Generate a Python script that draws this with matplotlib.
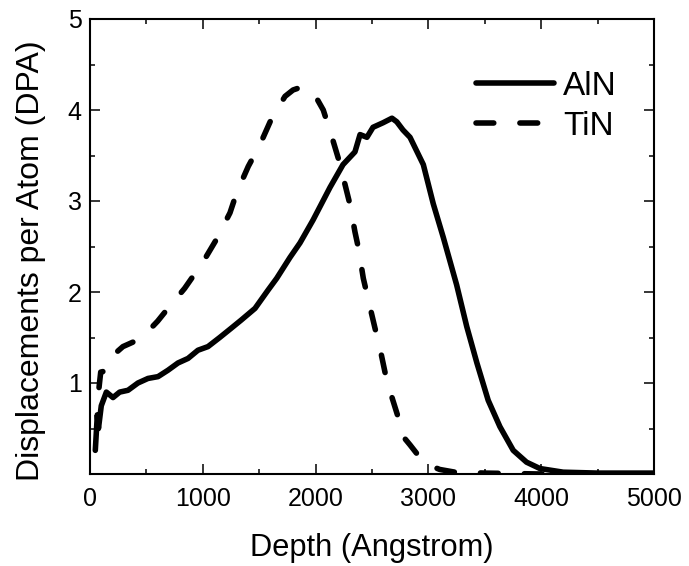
import matplotlib
matplotlib.use("Agg")
import matplotlib.pyplot as plt
from matplotlib.ticker import MultipleLocator

plt.rcParams['font.family'] = ['Liberation Sans', 'DejaVu Sans']

# AlN (solid)
aln_depth = [47, 65, 75, 100, 145, 204, 263, 337, 425, 514, 603, 691, 780, 869, 957,
             1046, 1150, 1250, 1339, 1463, 1578, 1655, 1773, 1862, 1977, 2128, 2243,
             2349, 2394, 2455, 2509, 2598, 2677, 2720, 2775, 2837, 2955, 3043, 3132,
             3250, 3340, 3430, 3530, 3634, 3752, 3870, 3989, 4195, 4500, 5000]
aln_dpa = [0.26, 0.65, 0.50, 0.75, 0.90, 0.84, 0.90, 0.92, 1.00, 1.05, 1.07, 1.14, 1.22,
           1.27, 1.36, 1.40, 1.50, 1.60, 1.69, 1.82, 2.02, 2.15, 2.38, 2.54, 2.79, 3.15,
           3.40, 3.54, 3.73, 3.70, 3.81, 3.86, 3.91, 3.87, 3.78, 3.70, 3.40, 2.97, 2.60,
           2.08, 1.62, 1.22, 0.81, 0.52, 0.26, 0.13, 0.06, 0.02, 0.01, 0.01]

# TiN (dashed)
tin_depth = [80, 95, 130, 200, 292, 400, 485, 600, 691, 839, 1002, 1117, 1241, 1300,
             1403, 1507, 1611, 1729, 1800, 1870, 1935, 1995, 2068, 2143, 2201, 2261,
             2305, 2349, 2380, 2423, 2468, 2527, 2571, 2615, 2675, 2748, 2777, 2837,
             2900, 3000, 3100, 3236, 3500, 4000, 5000]
tin_dpa = [0.95, 1.12, 1.13, 1.30, 1.40, 1.46, 1.53, 1.68, 1.82, 2.04, 2.33, 2.57, 2.87,
           3.09, 3.38, 3.62, 3.91, 4.15, 4.22, 4.25, 4.22, 4.16, 4.00, 3.71, 3.47, 3.18,
           2.96, 2.66, 2.48, 2.15, 1.91, 1.60, 1.38, 1.12, 0.85, 0.56, 0.41, 0.32, 0.22,
           0.10, 0.05, 0.02, 0.01, 0.0, 0.0]

xticks = [0, 1000, 2000, 3000, 4000, 5000]
yticks = [1, 2, 3, 4, 5]

fig = plt.figure(figsize=(6.89, 5.66), dpi=100)
ax = fig.add_axes([90/689, 1 - 474/566, 564/689, 455/566])

ax.plot(aln_depth, aln_dpa, color='black', lw=4, solid_joinstyle='round',
        solid_capstyle='round', label='AlN')
ax.plot(tin_depth, tin_dpa, color='black', lw=4, dashes=(3.2, 4.7),
        dash_capstyle='round', dash_joinstyle='round', label='TiN')

ax.set_xlim(0, 5000)
ax.set_ylim(0, 5)
ax.set_xticks(xticks)
ax.set_yticks(yticks)
ax.xaxis.set_minor_locator(MultipleLocator(500))
ax.yaxis.set_minor_locator(MultipleLocator(0.5))
ax.tick_params(which='both', direction='in', top=True, right=True, width=1.1,
               labelsize=18)
ax.tick_params(which='major', length=7)
ax.tick_params(which='minor', length=3.6)
ax.tick_params(axis='x', pad=9)
ax.tick_params(axis='y', pad=6)
for s in ax.spines.values():
    s.set_linewidth(1.5)

ax.set_xlabel('Depth (Angstrom)', fontsize=22.2, labelpad=16)
ax.set_ylabel('Displacements per Atom (DPA)', fontsize=23)
ax.yaxis.set_label_coords(-0.078, 0.468)

leg = ax.legend(loc='upper left', bbox_to_anchor=(476/689, 1 - 71/566),
                bbox_transform=fig.transFigure, frameon=False, fontsize=24,
                handlelength=2.34, handletextpad=0.27, labelspacing=0.27,
                borderpad=0, borderaxespad=0)

fig.savefig('out.png', dpi=100)
